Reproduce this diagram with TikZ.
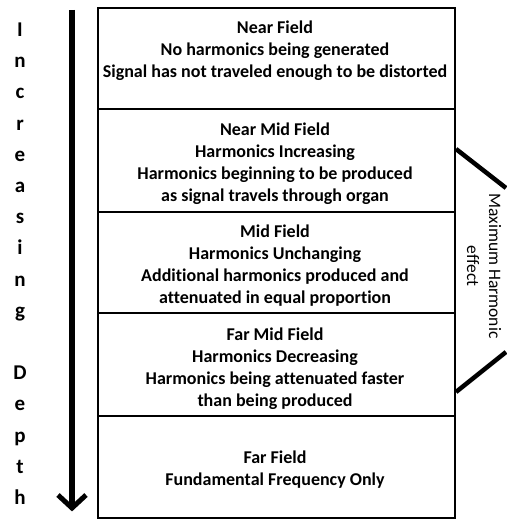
\documentclass[tikz,border=0pt]{standalone}
\usepackage{fontspec}
\setmainfont[Ligatures=NoCommon]{Carlito}
\begin{document}
\begin{tikzpicture}[x=1pt,y=-1pt,
  fieldbox/.style={draw, line width=1.2pt, minimum width=357pt, inner sep=0pt},
  fieldtext/.style={align=center, inner sep=0pt, font=\bfseries\fontsize{18}{22}\selectfont},
  depthletter/.style={anchor=base, inner sep=0pt, font=\bfseries\fontsize{21}{24}\selectfont},
  bracketline/.style={line width=4.5pt},
  sidetext/.style={rotate=-90, align=center, inner sep=0pt, font=\fontsize{17.5}{22}\selectfont}]
\useasboundingbox (0,0) rectangle (506,519);
% boxes
\node[fieldbox, minimum height=101pt] (b1) at (276.5,58.5) {};
\node[fieldbox, minimum height=103pt] (b2) at (276.5,160.5) {};
\node[fieldbox, minimum height=101pt] (b3) at (276.5,262.5) {};
\node[fieldbox, minimum height=103pt] (b4) at (276.5,364.5) {};
\node[fieldbox, minimum height=102pt] (b5) at (276.5,467) {};
% texts
\node[fieldtext] (t1) at (275,51) {Near Field\\No harmonics being generated\\Signal has not traveled enough to be distorted};
\node[fieldtext] (t2) at (275,164) {Near Mid Field\\Harmonics Increasing\\Harmonics beginning to be produced\\as signal travels through organ};
\node[fieldtext] (t3) at (275,266) {Mid Field\\Harmonics Unchanging\\Additional harmonics produced and\\attenuated in equal proportion};
\node[fieldtext] (t4) at (275,369) {Far Mid Field\\Harmonics Decreasing\\Harmonics being attenuated faster\\than being produced};
\node[fieldtext] (t5) at (275,470) {Far Field\\Fundamental Frequency Only};
% depth letters
\foreach \ch/\k in {I/0,n/1,c/2,r/3,e/4,a/5,s/6,i/7,n/8,g/9,D/11,e/12,p/13,t/14,h/15}{
  \node[depthletter] (l\k) at (20,{36.5+31.2*\k}) {\ch};
}
% arrow
\coordinate (atop) at (72,10);
\coordinate (atip) at (72,508);
\coordinate (aleft) at (58,495);
\coordinate (aright) at (86,495);
\draw[line width=6pt] (atop) -- (72,506);
\draw[line width=5pt, line join=miter] (aleft) -- (atip) -- (aright);
% bracket
\coordinate (bu1) at (456,149);
\coordinate (bu2) at (506,188);
\coordinate (bl1) at (456,392);
\coordinate (bl2) at (506,352);
\draw[bracketline] (bu1) -- (bu2);
\draw[bracketline] (bl1) -- (bl2);
\node[sidetext] (side) at (484,266) {Maximum Harmonic\\effect};
\end{tikzpicture}
\end{document}
